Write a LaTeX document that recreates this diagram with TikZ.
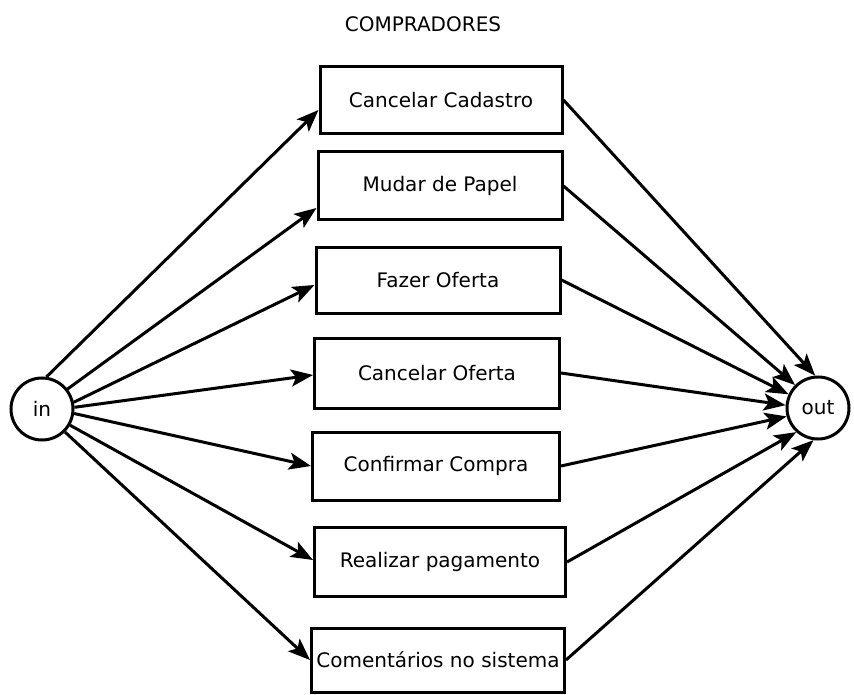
\documentclass[tikz,border=0pt]{standalone}
\usepackage{fontspec}
\setmainfont{DejaVu Sans}
\usetikzlibrary{arrows.meta, calc, positioning}

\begin{document}
\begin{tikzpicture}[x=1pt,y=-1pt]

    \tikzset
    {
        font={\fontsize{20pt}{22pt}\selectfont},
        caixa/.style={draw, line width=3pt, inner sep=0pt},
        estado/.style={draw, circle, line width=3pt, minimum size=62pt, inner sep=0pt},
        seta/.style={line width=3pt, -{Stealth[length=22pt,width=17pt,inset=5pt]}}
    }

    \useasboundingbox (0,0) rectangle (854,695);

    \node (titulo) at (423,24) {COMPRADORES};

    \node[estado] (in) at (42,409) {in};
    \node[estado] (out) at (818,408) {out};

    \node[caixa, minimum width=242pt, minimum height=67pt] (b1) at (441,100) {Cancelar Cadastro};
    \node[caixa, minimum width=244pt, minimum height=68pt] (b2) at (440,186) {Mudar de Papel};
    \node[caixa, minimum width=244pt, minimum height=66pt] (b3) at (438,280) {Fazer Oferta};
    \node[caixa, minimum width=245pt, minimum height=70pt] (b4) at (437,373) {Cancelar Oferta};
    \node[caixa, minimum width=247pt, minimum height=68pt] (b5) at (436,466) {Confirmar Compra};
    \node[caixa, minimum width=251pt, minimum height=69pt] (b6) at (440,562) {Realizar pagamento};
    \node[caixa, minimum width=253pt, minimum height=64pt] (b7) at (438,660) {Comentários no sistema};

    % in -> atividades
    \draw[seta] (in.82) -- ([yshift=-10pt]b1.west);
    \draw[seta] (in.38) -- ([yshift=-22pt]b2.west);
    \draw[seta] (in.12) -- ([yshift=-5pt]b3.west);
    \draw[seta] (in.3) -- ([yshift=-2pt]b4.west);
    \draw[seta] (in.-8) -- (b5.west);
    \draw[seta] (in.-30) -- ([yshift=2pt]b6.west);
    \draw[seta] (in.-45) -- (b7.west);

    % atividades -> out
    \draw[seta] (b1.east) -- (out.95);
    \draw[seta] (b2.east) -- (out.135);
    \draw[seta] (b3.east) -- (out.155);
    \draw[seta] (b4.east) -- (out.175);
    \draw[seta] (b5.east) -- (out.195);
    \draw[seta] (b6.east) -- (out.228);
    \draw[seta] (b7.east) -- (out.262);

\end{tikzpicture}
\end{document}
